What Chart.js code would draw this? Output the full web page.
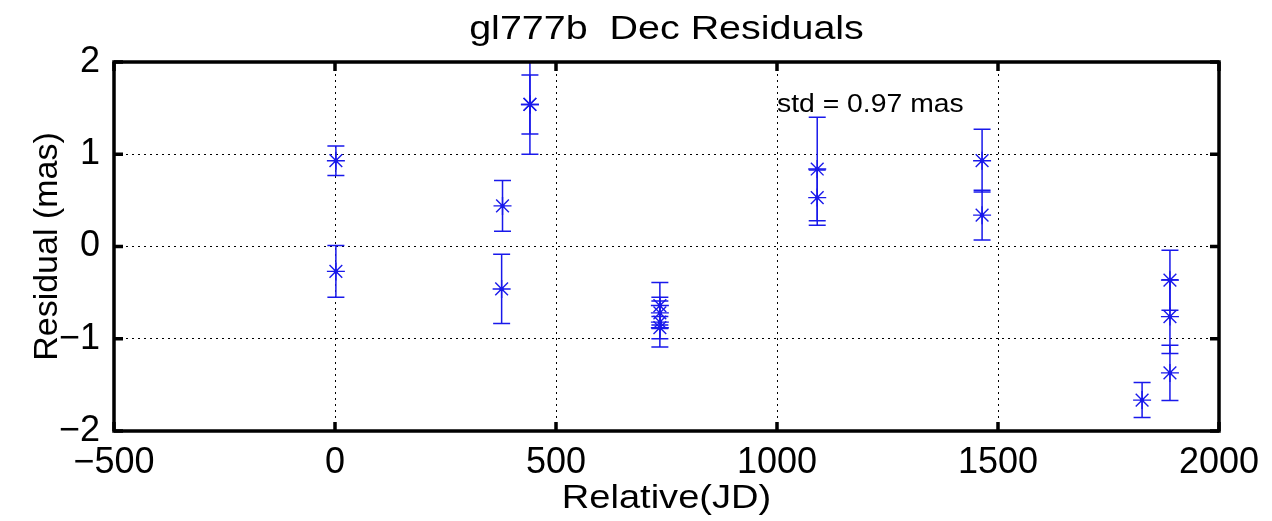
<!DOCTYPE html>
<html>
<head>
<meta charset="utf-8">
<script src="https://cdn.jsdelivr.net/npm/chart.js@4.4.1/dist/chart.umd.min.js"></script>
<style>
  html, body { margin: 0; padding: 0; background: #fff; }
  #wrap { width: 1272px; height: 521px; }
</style>
</head>
<body>
<div id="wrap"><canvas id="chart" width="1272" height="521"></canvas></div>
<script>
// Residuals
const jd       = [2, 2, 379, 377, 441, 441, 735, 735, 735, 735, 1091, 1091, 1464, 1464, 1826, 1889, 1889, 1889];
const residual = [0.93, -0.27, 0.44, -0.46, 1.54, 1.54, -0.64, -0.72, -0.82, -0.88, 0.84, 0.53, 0.93, 0.34, -1.665, -0.365, -0.76, -1.37];
const errBar   = [0.16, 0.28, 0.275, 0.375, 0.32, 0.54, 0.25, 0.13, 0.27, 0.12, 0.56, 0.30, 0.34, 0.27, 0.19, 0.325, 0.40, 0.30];

const xTicks = [-500, 0, 500, 1000, 1500, 2000];
const yTicks = [-2, -1, 0, 1, 2];

const titleText = 'gl777b  Dec Residuals';
const stdText = 'std = 0.97 mas';

const blue = 'rgb(25,25,235)';
const font = '"Liberation Sans", Arial, sans-serif';
const points = jd.map((x, i) => ({ x: x, y: residual[i], err: errBar[i] }));

const minus = v => String(v).replace('-', '\u2212');

// text drawn a bit wider than tall, like the stretched original
function wideText(ctx, text, x, y, size, sx, align, base) {
  ctx.save();
  ctx.translate(x, y);
  ctx.scale(sx, 1);
  ctx.font = size + 'px ' + font;
  ctx.textAlign = align;
  ctx.textBaseline = base;
  ctx.fillText(text, 0, 0);
  ctx.restore();
}

// error bars, frame, inward ticks and texts
const extras = {
  id: 'extras',
  beforeDatasetsDraw(chart) {
    const ctx = chart.ctx, a = chart.chartArea;
    const xs = chart.scales.x, ys = chart.scales.y;
    ctx.save();
    ctx.beginPath();
    ctx.rect(a.left, a.top, a.right - a.left, a.bottom - a.top);
    ctx.clip();
    ctx.strokeStyle = blue;
    ctx.lineWidth = 1.5;
    points.forEach(p => {
      const px = xs.getPixelForValue(p.x);
      const top = ys.getPixelForValue(p.y + p.err);
      const bot = ys.getPixelForValue(p.y - p.err);
      ctx.beginPath();
      ctx.moveTo(px, top); ctx.lineTo(px, bot);
      ctx.moveTo(px - 8.5, top); ctx.lineTo(px + 8.5, top);
      ctx.moveTo(px - 8.5, bot); ctx.lineTo(px + 8.5, bot);
      ctx.stroke();
    });
    ctx.restore();
  },
  afterDraw(chart) {
    const ctx = chart.ctx, a = chart.chartArea;
    const xs = chart.scales.x, ys = chart.scales.y;
    ctx.save();
    ctx.strokeStyle = '#000';
    ctx.lineWidth = 3.5;
    ctx.strokeRect(a.left, a.top, a.right - a.left, a.bottom - a.top);
    ctx.beginPath();
    xTicks.forEach(v => {
      const px = xs.getPixelForValue(v);
      ctx.moveTo(px, a.bottom); ctx.lineTo(px, a.bottom - 9);
      ctx.moveTo(px, a.top); ctx.lineTo(px, a.top + 9);
    });
    yTicks.forEach(v => {
      const py = ys.getPixelForValue(v);
      ctx.moveTo(a.left, py); ctx.lineTo(a.left + 9, py);
      ctx.moveTo(a.right, py); ctx.lineTo(a.right - 9, py);
    });
    ctx.stroke();

    ctx.fillStyle = '#000';
    wideText(ctx, titleText, (a.left + a.right) / 2, 30, 34, 1.16, 'center', 'middle');
    wideText(ctx, stdText, 777, 112, 26, 1.09, 'left', 'alphabetic');
    wideText(ctx, 'Relative(JD)', (a.left + a.right) / 2, 499, 34, 1.12, 'center', 'middle');
    ctx.restore();
  }
};

new Chart(document.getElementById('chart'), {
  type: 'scatter',
  data: {
    datasets: [
      {
        data: points,
        pointStyle: 'star',
        pointRadius: 9,
        pointHoverRadius: 9,
        borderColor: blue,
        backgroundColor: blue,
        pointBorderWidth: 1.4
      },
      {
        data: points,
        pointStyle: 'circle',
        pointRadius: 2.2,
        pointHoverRadius: 2.2,
        borderWidth: 0,
        backgroundColor: blue
      }
    ]
  },
  options: {
    responsive: false,
    animation: false,
    events: [],
    layout: { padding: { left: 0, top: 62, right: 53, bottom: 0 } },
    plugins: { legend: { display: false }, tooltip: { enabled: false } },
    scales: {
      x: {
        type: 'linear',
        min: -500,
        max: 2000,
        afterBuildTicks: s => { s.ticks = xTicks.map(v => ({ value: v })); },
        afterFit: s => { s.height = 90; },
        ticks: {
          color: '#000',
          padding: 10,
          maxRotation: 0,
          font: { family: font, size: 36 },
          callback: v => minus(v)
        },
        grid: { color: '#000', lineWidth: 1, drawTicks: false },
        border: { display: false, dash: [2, 4] }
      },
      y: {
        type: 'linear',
        min: -2,
        max: 2,
        afterBuildTicks: s => { s.ticks = yTicks.map(v => ({ value: v })); },
        afterFit: s => { s.width = 114; },
        ticks: {
          color: '#000',
          padding: 14,
          font: { family: font, size: 36 },
          callback: v => minus(v)
        },
        grid: { color: '#000', lineWidth: 1, drawTicks: false },
        border: { display: false, dash: [2, 4] },
        title: {
          display: true,
          text: 'Residual (mas)',
          color: '#000',
          padding: { top: 27 },
          font: { family: font, size: 34 }
        }
      }
    }
  },
  plugins: [extras]
});
</script>
</body>
</html>
